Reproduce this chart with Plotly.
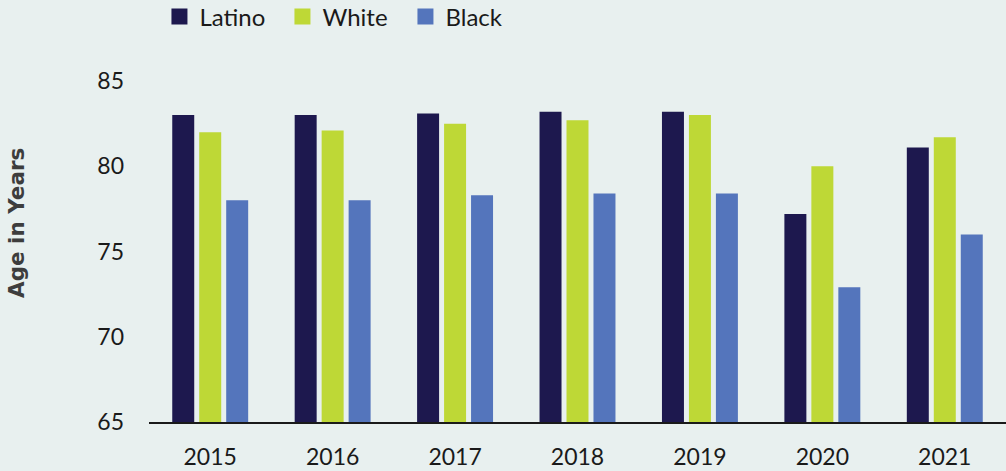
import plotly.graph_objects as go

# Life expectancy by group, 2015-2021
years = ["2015", "2016", "2017", "2018", "2019", "2020", "2021"]
latino = [83.0, 83.0, 83.1, 83.2, 83.2, 77.2, 81.1]
white = [82.0, 82.1, 82.5, 82.7, 83.0, 80.0, 81.7]
black = [78.0, 78.0, 78.3, 78.4, 78.4, 72.9, 76.0]
y_ticks = [65, 70, 75, 80, 85]

series = [
    ("Latino", latino, "#1D184E"),
    ("White", white, "#BED836"),
    ("Black", black, "#5475BC"),
]

BG = "#E8F0EF"
FONT = "Lato"

fig = go.Figure()
for name, vals, color in series:
    fig.add_trace(go.Bar(x=years, y=vals, name=name, marker_color=color,
                         marker_line_width=0, legendgroup=name,
                         showlegend=False))
# Legend keys drawn as larger square markers
for name, vals, color in series:
    fig.add_trace(go.Scatter(x=[None], y=[None], mode="markers", name=name,
                             legendgroup=name,
                             marker=dict(symbol="square", size=16,
                                         color=color)))

fig.update_layout(
    width=1006, height=471,
    paper_bgcolor=BG, plot_bgcolor=BG,
    margin=dict(l=149, r=0, t=81, b=49, pad=0, autoexpand=False),
    barmode="group", bargap=0.339, bargroupgap=0.185,
    font=dict(family=FONT, size=23, color="#1a1a1a"),
    legend=dict(orientation="h", xref="container", yref="container",
                x=0.1585, y=0.964, xanchor="left", yanchor="middle",
                font=dict(size=24, color="#1a1a1a"),
                entrywidth=78, traceorder="normal",
                bgcolor="rgba(0,0,0,0)"),
    showlegend=True,
)
fig.update_xaxes(showline=True, linecolor="#1a1a1a", linewidth=1.5,
                 showgrid=False, zeroline=False, ticks="",
                 ticklabelstandoff=14, tickfont=dict(size=23))
fig.update_yaxes(range=[65, 85], tickvals=y_ticks, showgrid=False,
                 zeroline=False, showline=False, ticks="",
                 ticklabelstandoff=24, tickfont=dict(size=23))

fig.add_annotation(text="<b>Age in Years</b>", textangle=-90,
                   xref="paper", yref="paper",
                   x=-149 / 857 + 16 / 857, y=(422 - 223) / 341,
                   xanchor="center", yanchor="middle", showarrow=False,
                   font=dict(family="DejaVu Sans", size=21.5, color="#3d3d3d"))

fig.write_html("out.html")
